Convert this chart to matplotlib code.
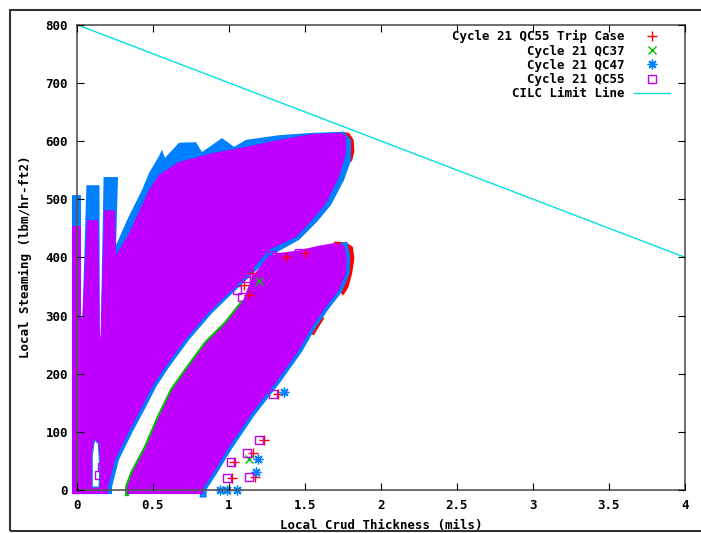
import matplotlib
matplotlib.use("Agg")
import matplotlib.pyplot as plt
from matplotlib.patches import Rectangle

# gnuplot default colours
RED = "#ff0000"
GREEN = "#00c000"
BLUE = "#0080ff"
PURPLE = "#c000ff"
CYAN = "#00e0e0"

# outline of the upper point cloud (QC47 extent, QC55 extent)
upper_blue_x = [-0.033, -0.033, 0.026, 0.026, 0.035, 0.062, 0.148, 0.15, 0.155, 0.175, 0.27, 0.257,
                0.336, 0.428, 0.474, 0.539, 0.559, 0.579, 0.671, 0.783, 0.822, 0.954, 1.033, 1.112,
                1.329, 1.546, 1.757, 1.803, 1.803, 1.757, 1.671, 1.579, 1.461, 1.296, 1.17, 1.046,
                0.888, 0.737, 0.605, 0.52, 0.454, 0.362, 0.276, 0.23, 0.23]
upper_blue_y = [-7, 507, 507, 300, 292, 524, 524, 270, 258, 538, 538, 421,
                468, 516, 545, 574, 585, 571, 597, 598, 581, 605, 590, 602,
                610, 614, 616, 602, 567, 533, 490, 461, 430, 406, 375, 344,
                304, 258, 211, 177, 143, 98, 52, 5, -7]

upper_purple_x = [-0.033, -0.033, 0.026, 0.026, 0.035, 0.066, 0.14, 0.15, 0.155, 0.178, 0.25, 0.257,
                  0.336, 0.428, 0.474, 0.539, 0.671, 0.888, 1.112, 1.329, 1.546, 1.724, 1.77, 1.77,
                  1.724, 1.638, 1.546, 1.441, 1.263, 1.15, 1.02, 0.862, 0.711, 0.579, 0.493, 0.428,
                  0.336, 0.25, 0.204, 0.204]
upper_purple_y = [-7, 454, 454, 300, 292, 464, 464, 270, 258, 481, 481, 404,
                  438, 490, 516, 542, 564, 579, 590, 602, 612, 614, 610, 580,
                  538, 493, 464, 435, 413, 378, 344, 304, 258, 211, 177, 143,
                  98, 52, 5, -7]

# outline of the lower point cloud (QC55 extent)
lower_x = [0.329, 0.329, 0.362, 0.454, 0.539, 0.625, 0.717, 0.849, 0.98, 1.086, 1.15, 1.25,
           1.32, 1.46, 1.59, 1.70, 1.76, 1.775, 1.77, 1.724, 1.638, 1.546, 1.461, 1.32,
           1.15, 1.0, 0.895, 0.83, 0.83]
lower_y = [-7, 5, 29, 74, 126, 172, 206, 253, 287, 322, 365, 400,
           407, 412, 420, 425, 420, 400, 373, 344, 315, 280, 241, 189,
           132, 74, 29, 3, -7]

# trip case tips
upper_red_x = [1.74, 1.79, 1.82, 1.825, 1.81, 1.79, 1.77]
upper_red_y = [616, 614, 602, 582, 566, 562, 590]
lower_red_x = [1.69, 1.77, 1.815, 1.825, 1.81, 1.785, 1.75, 1.72]
lower_red_y = [427, 426, 418, 398, 372, 348, 334, 345]
edge_red_x = [1.53, 1.60]
edge_red_y = [270, 300]

# empty pocket near the bottom left
hole_x = [0.10, 0.10, 0.115, 0.14, 0.15, 0.145]
hole_y = [5, 60, 86, 80, 40, 5]

# scattered single points
trip_x = [1.32, 1.23, 1.16, 1.03, 1.02, 1.17, 1.50, 1.375, 1.15, 1.13, 1.10]
trip_y = [165, 86, 64, 48, 21, 22, 407, 400, 373, 335, 352]
qc37_x = [1.13, 0.98, 1.20]
qc37_y = [53, 0, 360]
qc47_x = [1.36, 1.19, 1.18, 0.94, 0.99, 1.05]
qc47_y = [168, 53, 31, 0, 0, 0]
qc55_x = [1.29, 1.20, 1.12, 1.01, 0.99, 1.13, 1.46, 1.28, 1.31, 1.13, 1.11, 1.05, 1.085, 0.165, 0.145]
qc55_y = [165, 86, 64, 48, 21, 22, 407, 404, 401, 373, 365, 344, 332, 40, 26]

cilc_x = [0, 4]
cilc_y = [800, 400]

labels = ["Cycle 21 QC55 Trip Case", "Cycle 21 QC37", "Cycle 21 QC47",
          "Cycle 21 QC55", "CILC Limit Line"]

FONT = {"family": "DejaVu Sans Mono", "weight": "bold", "size": 9}

fig = plt.figure(figsize=(7.01, 5.33), dpi=100)
ax = fig.add_axes([77 / 701, 43 / 533, 608 / 701, 465.3 / 533])

# red first, then green, blue, purple on top (gnuplot draw order)
ax.fill(upper_red_x, upper_red_y, color=RED, lw=0, zorder=1, clip_on=False)
ax.fill(lower_red_x, lower_red_y, color=RED, lw=0, zorder=1, clip_on=False)
ax.plot(edge_red_x, edge_red_y, color=RED, lw=7, zorder=1, solid_capstyle="butt")
ax.plot(lower_x[:10], lower_y[:10], color=GREEN, lw=3, zorder=2, clip_on=False)
ax.fill(upper_blue_x, upper_blue_y, color=BLUE, lw=0, zorder=3, clip_on=False)
ax.plot(lower_x[16:], lower_y[16:], color=BLUE, lw=5, zorder=3, clip_on=False)
ax.fill(upper_purple_x, upper_purple_y, color=PURPLE, lw=0, zorder=4, clip_on=False)
ax.fill(lower_x, lower_y, color=PURPLE, lw=0, zorder=4, clip_on=False)
ax.fill(hole_x, hole_y, facecolor="white", edgecolor=BLUE, lw=0.8, zorder=4.5)

h1, = ax.plot(trip_x, trip_y, ls="none", marker="+", ms=7, mew=1, color=RED, zorder=5, clip_on=False)
h2, = ax.plot(qc37_x, qc37_y, ls="none", marker="x", ms=5.5, mew=1, color=GREEN, zorder=5, clip_on=False)
h3, = ax.plot(qc47_x, qc47_y, ls="none", marker=(8, 2, 0), ms=7, mew=1, color=BLUE, zorder=5, clip_on=False)
h4, = ax.plot(qc55_x, qc55_y, ls="none", marker="s", ms=6, mew=1, mfc="none", mec=PURPLE, zorder=5, clip_on=False)
h5, = ax.plot(cilc_x, cilc_y, color=CYAN, lw=1, zorder=6)

ax.set_xlim(0, 4)
ax.set_ylim(0, 800)
ax.set_xticks([0, 0.5, 1, 1.5, 2, 2.5, 3, 3.5, 4])
ax.set_xticklabels(["0", "0.5", "1", "1.5", "2", "2.5", "3", "3.5", "4"])
ax.set_yticks(range(0, 801, 100))
ax.tick_params(direction="in", length=5, width=0.8, top=True, right=True, pad=6.5)
for lab in ax.get_xticklabels() + ax.get_yticklabels():
    lab.set_fontproperties(FONT)
for sp in ax.spines.values():
    sp.set_color("#555555")
    sp.set_linewidth(1.2)
    sp.set_zorder(10)
ax.xaxis.set_zorder(10)
ax.yaxis.set_zorder(10)

fig.text(381 / 701, 1 - 525 / 533, "Local Crud Thickness (mils)", ha="center", va="center", fontdict=FONT)
fig.text(25 / 701, 1 - 257 / 533, "Local Steaming (lbm/hr-ft2)", ha="center", va="center",
         rotation=90, fontdict=FONT)

width = max(len(s) for s in labels)
ax.legend([h1, h2, h3, h4, h5], [s.rjust(width) for s in labels],
          loc="upper right", bbox_to_anchor=(0.975, 0.988), frameon=False, markerfirst=False,
          handlelength=2.9, handletextpad=0.7, labelspacing=0.1, borderpad=0, borderaxespad=0,
          numpoints=1, prop=FONT)

fig.patches.append(Rectangle((10 / 701, 2 / 533), 1.2, 521 / 533, transform=fig.transFigure,
                             fill=False, edgecolor="#333333", lw=1.5))

fig.savefig("out.png", dpi=100)
